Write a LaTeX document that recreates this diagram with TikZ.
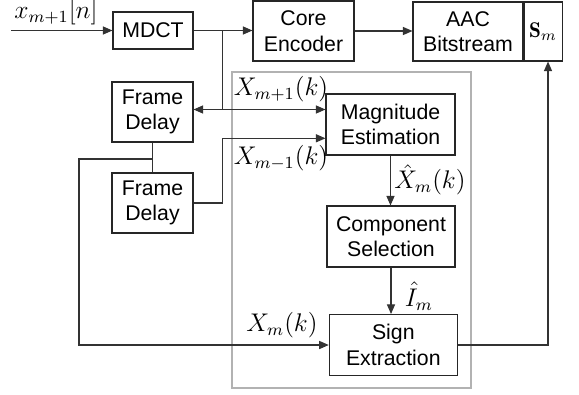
\documentclass[tikz,border=0pt]{standalone}
\usepackage{fontspec}
\setsansfont{Liberation Sans}
\usetikzlibrary{arrows.meta}

\newcommand{\px}{0.47pt}

\tikzset{
  blk/.style={draw=black!85, line width=0.5pt, inner sep=0pt, align=center,
    font=\sffamily\fontsize{10}{12}\selectfont},
  lbl/.style={inner sep=0pt, font=\fontsize{11.5}{13}\selectfont},
  con/.style={draw=black!80, line width=0.5pt},
  arr/.style={con, -{Triangle[length=4.5pt,width=3.8pt]}},
}

\begin{document}
\begin{tikzpicture}[x=\px, y=-\px]
  \useasboundingbox (0,0) rectangle (579,394);

  % the sign coding part
  \draw[gray!60, line width=0.6pt] (232,72) rectangle (471,388);

  % Draw the blocks
  \node[blk, minimum width=80*\px, minimum height=37*\px] (mdct) at (153,30.5) {MDCT};
  \node[blk, minimum width=101*\px, minimum height=60*\px] (core) at (303.5,31) {Core\\Encoder};
  \node[blk, minimum width=110*\px, minimum height=59*\px] (aac) at (468,31.5) {AAC\\Bitstream};
  \node[blk, minimum width=38*\px, minimum height=59*\px, anchor=west] (sm) at (aac.east) {$\mathbf{S}_m$};

  \node[blk, minimum width=81*\px, minimum height=60*\px] (fd1) at (152.5,112) {Frame\\Delay};
  \node[blk, minimum width=81*\px, minimum height=60*\px] (fd2) at (152.5,203) {Frame\\Delay};

  \node[blk, minimum width=129*\px, minimum height=61*\px] (mag) at (390.5,124.5) {Magnitude\\Estimation};
  \node[blk, minimum width=128*\px, minimum height=61*\px] (comp) at (391,236.5) {Component\\Selection};
  \node[blk, minimum width=128*\px, minimum height=61*\px] (sign) at (393.3,345) {Sign\\Extraction};

  % Corner points of the lines
  \coordinate (in) at (11,30.5);
  \coordinate (split) at (222.5,30.5);
  \coordinate (fork) at (222.5,109.5);
  \coordinate (bend) at (222.5,138.3);
  \coordinate (tap) at (152.5,159);
  \coordinate (loop) at (79,159);
  \coordinate (up) at (548,345);

  % top row
  \draw[arr] (in) -- (mdct.west);
  \draw[arr] (mdct.east) -- (mdct.east -| core.west);
  \draw[arr] (core.east) -- (core.east -| aac.west);

  % current frame into the delays and the estimator
  \draw[con] (split) -- (fork);
  \draw[arr] (fork) -- (fork -| fd1.east);
  \draw[arr] (fork) -- (fork -| mag.west);
  \draw[arr] (fd2.east) -| (bend) -- (bend -| mag.west);

  % delayed frame to the sign extraction
  \draw[con] (fd1.south) -- (fd2.north);
  \draw[arr] (tap) -- (loop) |- (sign.west);

  % down the chain
  \draw[arr] (mag.south) -- (mag.south |- comp.north);
  \draw[arr] (comp.south) -- (comp.south |- sign.north);
  \draw[arr] (sign.east) -- (up) -- (up |- sm.south);

  % labels
  \node[lbl] (xin) at (56,12) {$x_{m+1}[n]$};
  \node[lbl] (xnext) at (281,89) {$X_{m+1}(k)$};
  \node[lbl] (xprev) at (281,158) {$X_{m-1}(k)$};
  \node[lbl] (xhat) at (430,180) {$\hat{X}_m(k)$};
  \node[lbl] (ihat) at (419,296) {$\hat{I}_m$};
  \node[lbl] (xcur) at (282,325) {$X_m(k)$};
\end{tikzpicture}
\end{document}
